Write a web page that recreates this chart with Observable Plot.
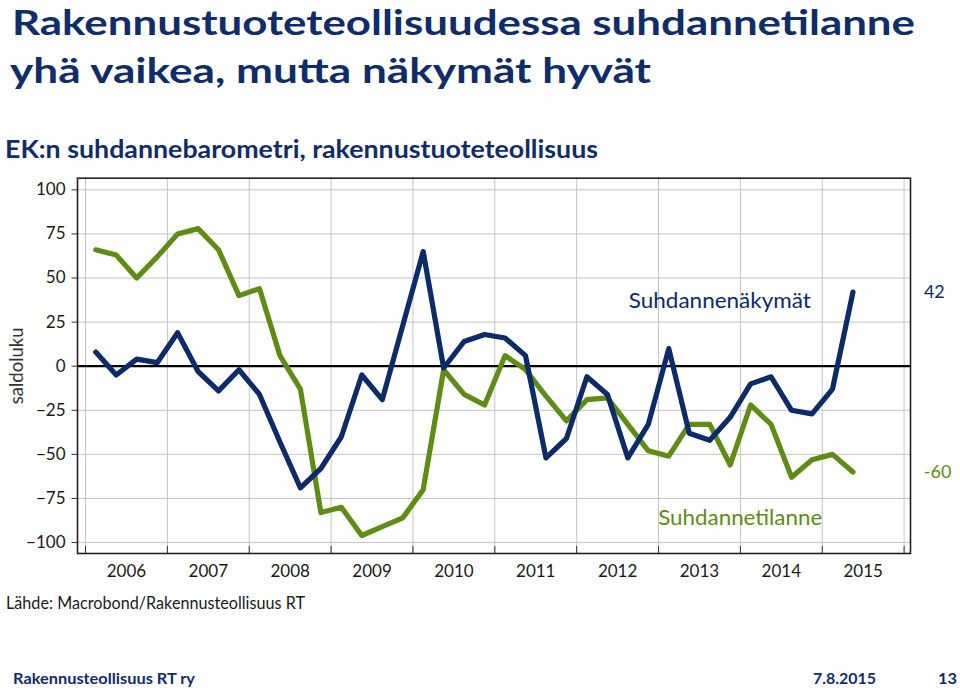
<!DOCTYPE html>
<html><head><meta charset="utf-8">
<script src="https://cdn.jsdelivr.net/npm/d3@7"></script>
<script src="https://cdn.jsdelivr.net/npm/@observablehq/plot@0.6"></script>
<style>
html,body{margin:0;padding:0;background:#fff;}
#page{position:relative;width:960px;height:691px;overflow:hidden;font-family:Lato,"Open Sans",sans-serif;background:#fff;}
.t{position:absolute;left:0;top:0;white-space:nowrap;line-height:1.25;transform-origin:0 0;}
#chart{position:absolute;left:0;top:170px;}
</style></head><body>
<div id="page">
  <div class="t" id="t1" style="font-weight:700;font-size:34px;color:#0f2c6b">Rakennustuoteteollisuudessa suhdannetilanne</div>
  <div class="t" id="t2" style="font-weight:700;font-size:34px;color:#0f2c6b">yhä vaikea, mutta näkymät hyvät</div>
  <div class="t" id="sub" style="font-weight:700;font-size:25px;color:#0f2c6b">EK:n suhdannebarometri, rakennustuoteteollisuus</div>
  <div id="chart"></div>
  <div class="t" id="src" style="font-size:17px;color:#1a1a1a">Lähde: Macrobond/Rakennusteollisuus RT</div>
  <div class="t" id="foot" style="font-weight:700;font-size:16px;color:#0f2c6b">Rakennusteollisuus RT ry</div>
  <div class="t" id="date" style="font-weight:700;font-size:16px;color:#0f2c6b">7.8.2015</div>
  <div class="t" id="pg" style="font-weight:700;font-size:16px;color:#0f2c6b">13</div>
</div>
<script>
// ---- data ----
const years = [2006, 2007, 2008, 2009, 2010, 2011, 2012, 2013, 2014, 2015];
const yearEdges = [2006, 2007, 2008, 2009, 2010, 2011, 2012, 2013, 2014, 2015, 2016];
const yTicks = [-100, -75, -50, -25, 0, 25, 50, 75, 100];
// quarterly balance figures, 2006Q1 .. 2015Q2
const nakymat = [8, -5, 4, 2, 19, -3, -14, -2, -16, -43, -69, -58, -40, -5, -19, 23, 65, -1, 14, 18, 16, 6, -52, -41, -6, -16, -52, -33, 10, -38, -42, -29, -10, -6, -25, -27, -13, 42];
const tilanne = [66, 63, 50, 62, 75, 78, 66, 40, 44, 6, -13, -83, -80, -96, -91, -86, -70, -2, -16, -22, 6, -2, -17, -31, -19, -18, -33, -48, -51, -33, -33, -56, -22, -33, -63, -53, -50, -60];
const seriesNames = ["Suhdannenäkymät", "Suhdannetilanne"];
const seriesLabels = [
  {text: "Suhdannenäkymät", x: 2012.637, y: 36.7},
  {text: "Suhdannetilanne", x: 2012.996, y: -86.4}
];

const NAVY = "#0b2b6a", GREEN = "#5e8c14";
const toRows = (arr) => arr.map((v, i) => ({x: years[0] + (i + 0.5) / 4, y: v}));
const navyRows = toRows(nakymat);
const greenRows = toRows(tilanne);
const lastNavy = [{...navyRows[navyRows.length - 1], label: String(nakymat[nakymat.length - 1])}];
const lastGreen = [{...greenRows[greenRows.length - 1], label: String(tilanne[tilanne.length - 1])}];

const chart = Plot.plot({
  width: 960, height: 420,
  marginLeft: 77, marginRight: 50, marginTop: 7.7, marginBottom: 37,
  x: {domain: [2005.902, 2016.078]},
  y: {domain: [-106.2, 106.6]},
  style: {fontFamily: "Lato, 'Open Sans', sans-serif", fontSize: "17px", color: "#1a1a1a", background: "#fff", overflow: "visible"},
  marks: [
    Plot.gridY(yTicks, {stroke: "#c4c4c4", strokeOpacity: 1, strokeWidth: 1}),
    Plot.gridX(yearEdges, {stroke: "#c4c4c4", strokeOpacity: 1, strokeWidth: 1}),
    Plot.ruleY([0], {stroke: "#000", strokeWidth: 2.2}),
    Plot.axisY(yTicks, {tickSize: 5.5, tickPadding: 6.5, fontSize: 17, label: null, stroke: "#333"}),
    Plot.axisX(yearEdges, {tickSize: 7, dy: -7, fill: "none", stroke: "#333", label: null}),
    Plot.axisX(years.map(d => d + 0.5), {tickSize: 0, tickPadding: 11, fontSize: 17, tickFormat: d => String(Math.floor(d)), label: null}),
    Plot.text(["saldoluku"], {frameAnchor: "left", dx: -60, rotate: -90, lineAnchor: "middle", textAnchor: "middle", fontSize: 18.5, fill: "#333"}),
    Plot.line(greenRows, {x: "x", y: "y", stroke: GREEN, strokeWidth: 5.2, strokeLinejoin: "round"}),
    Plot.line(navyRows, {x: "x", y: "y", stroke: NAVY, strokeWidth: 5.2, strokeLinejoin: "round"}),
    Plot.text([seriesLabels[0]], {x: "x", y: "y", text: "text", textAnchor: "start", lineAnchor: "middle", fontSize: 21, fill: NAVY}),
    Plot.text([seriesLabels[1]], {x: "x", y: "y", text: "text", textAnchor: "start", lineAnchor: "middle", fontSize: 21, fill: GREEN}),
    Plot.text(lastNavy, {x: "x", y: "y", text: "label", dx: 81.4, textAnchor: "middle", lineAnchor: "middle", fontSize: 18, fill: NAVY}),
    Plot.text(lastGreen, {x: "x", y: "y", text: "label", dx: 84.7, textAnchor: "middle", lineAnchor: "middle", fontSize: 18, fill: GREEN}),
    Plot.frame({stroke: "#222", strokeWidth: 1.6})
  ]
});
document.getElementById("chart").appendChild(chart);

// stretch series labels to the reference widths
const labelWidths = {"Suhdannenäkymät": 182, "Suhdannetilanne": 164};
chart.querySelectorAll("text").forEach(t => {
  const w = labelWidths[t.textContent];
  if (w) { t.setAttribute("textLength", w); t.setAttribute("lengthAdjust", "spacingAndGlyphs"); }
});

// place HTML texts by baseline and width
function place(id, left, baseline, width) {
  const el = document.getElementById(id);
  el.style.left = left + "px";
  el.style.top = "0px";
  const probe = document.createElement("span");
  probe.style.cssText = "display:inline-block;width:0;height:0;";
  el.appendChild(probe);
  const b = probe.getBoundingClientRect().top - el.getBoundingClientRect().top;
  el.removeChild(probe);
  const w = el.getBoundingClientRect().width;
  el.style.top = Math.max(0, baseline - b) + "px";
  if (width) el.style.transform = "scaleX(" + (width / w) + ")";
}
place("t1", 12, 34.5, 903);
place("t2", 10, 82.5, 641);
place("sub", 5, 158.3, 593);
place("src", 6, 609, 299);
place("foot", 12.7, 684.3, 182);
place("date", 813, 684.3, 63);
place("pg", 938, 684.3, 19);
</script>
</body></html>
